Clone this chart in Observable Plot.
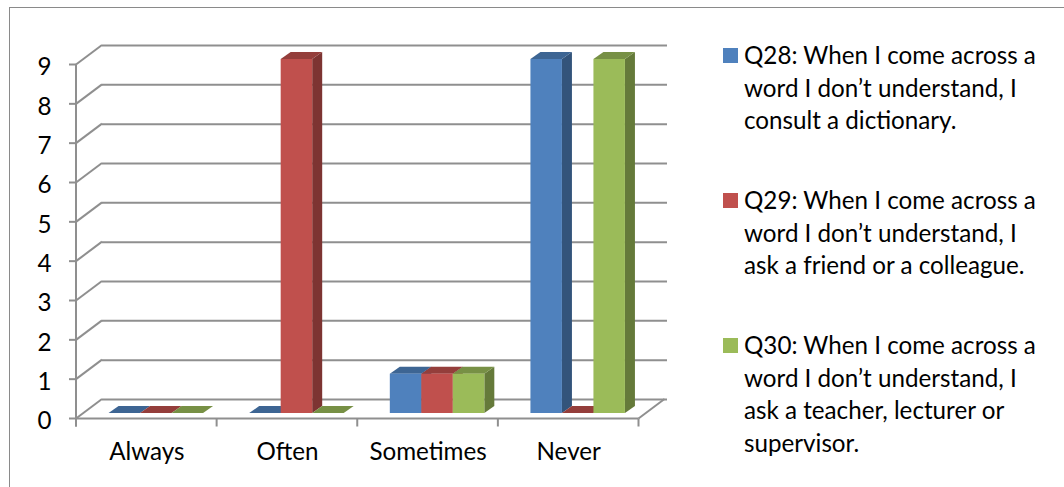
<!DOCTYPE html>
<html>
<head>
<meta charset="utf-8">
<script src="https://cdn.jsdelivr.net/npm/d3@7"></script>
<script src="https://cdn.jsdelivr.net/npm/@observablehq/plot@0.6"></script>
<style>
  html, body { margin: 0; padding: 0; background: #fff; }
  #chart { position: relative; width: 1064px; height: 487px; overflow: hidden; font-family: Lato, "Open Sans", sans-serif; }
  #frame { position: absolute; left: 9px; top: 7px; width: 1100px; height: 600px; border-left: 1.5px solid #8a8a8a; border-top: 1.5px solid #8a8a8a; }
  #plot { position: absolute; left: 0; top: 0; }
  #legend { position: absolute; left: 723px; top: 0; width: 340px; height: 487px; }
  .swatch { position: absolute; left: 0; width: 15px; height: 15px; }
  .label { position: absolute; left: 21px; font-size: 24.2px; line-height: 32.5px; white-space: nowrap; color: #000; }
</style>
</head>
<body>
<div id="chart">
  <div id="frame"></div>
  <div id="plot"></div>
  <div id="legend"></div>
</div>
<script>
// ---- data ----
const categories = ["Always", "Often", "Sometimes", "Never"];
const seriesNames = ["Q28", "Q29", "Q30"];
const legendLines = [
  ["Q28: When I come across a", "word I don’t understand, I", "consult a dictionary."],
  ["Q29: When I come across a", "word I don’t understand, I", "ask a friend or a colleague."],
  ["Q30: When I come across a", "word I don’t understand, I", "ask a teacher, lecturer or", "supervisor."]
];
const q28 = [0, 0, 1, 9];
const q29 = [0, 9, 1, 0];
const q30 = [0, 0, 1, 9];
const yTicks = [0, 1, 2, 3, 4, 5, 6, 7, 8, 9];
const colors = ["#4F81BD", "#C0504D", "#9BBB59"];
const topColors = ["#3D6593", "#943E3B", "#779045"];
const sideColors = ["#33547B", "#7D3432", "#657A3A"];

// ---- layout / style constants ----
const GRID = "#8f8f8f";
const FRONT = [-9.5, 5.5];   // front plane offset (px) from bar plane
const BACK = [16.5, -14];    // back wall offset (px) from bar plane
const DEPTH = [10, -7];      // bar depth (px)
const barFrac = 0.224;       // bar width as fraction of a category band
const FONT = "Lato, 'Open Sans', sans-serif";
const FS = 24.2;

const values = [q28, q29, q30];
const rows = [];
categories.forEach((c, i) => {
  seriesNames.forEach((s, j) => {
    const x1 = i + 0.5 + (j - 1.5) * barFrac;
    rows.push({cat: c, series: s, j, value: values[j][i], x1, x2: x1 + barFrac});
  });
});

function axesDecor(index, {x, y}) {
  const g = d3.create("svg:g").attr("fill", "none").attr("stroke", GRID).attr("stroke-width", 2);
  const line = (x1, y1, x2, y2) => g.append("line").attr("x1", x1).attr("y1", y1).attr("x2", x2).attr("y2", y2);
  for (const t of yTicks) line(x(0) + FRONT[0], y(t) + FRONT[1], x(0) + BACK[0], y(t) + BACK[1]);
  line(x(categories.length) + FRONT[0], y(0) + FRONT[1], x(categories.length) + BACK[0], y(0) + BACK[1]);
  line(x(0) + FRONT[0], y(0) + FRONT[1], x(categories.length) + FRONT[0], y(0) + FRONT[1]);
  line(x(0) + FRONT[0], y(yTicks[yTicks.length - 1]) + FRONT[1], x(0) + FRONT[0], y(0) + FRONT[1] + 8);
  for (const t of yTicks) line(x(0) + FRONT[0] - 7, y(t) + FRONT[1], x(0) + FRONT[0], y(t) + FRONT[1]);
  for (let i = 0; i <= categories.length; i++) line(x(i) + FRONT[0], y(0) + FRONT[1], x(i) + FRONT[0], y(0) + FRONT[1] + 8);
  return g.node();
}

function barSidesTops(index, {x, y}) {
  const g = d3.create("svg:g");
  const poly = (pts, fill) => g.append("polygon").attr("points", pts.map(p => p.join(",")).join(" ")).attr("fill", fill);
  for (const d of rows) {
    const X1 = x(d.x1), X2 = x(d.x2), Y0 = y(0), Yv = y(d.value);
    if (d.value > 0) {
      poly([[X2, Y0], [X2, Yv], [X2 + DEPTH[0], Yv + DEPTH[1]], [X2 + DEPTH[0], Y0 + DEPTH[1]]], sideColors[d.j]);
    }
    poly([[X1, Yv], [X2, Yv], [X2 + DEPTH[0], Yv + DEPTH[1]], [X1 + DEPTH[0], Yv + DEPTH[1]]], topColors[d.j]);
  }
  return g.node();
}

const chart = Plot.plot({
  width: 1064,
  height: 487,
  marginLeft: 85.5,
  marginRight: 1064 - 648,
  marginTop: 59,
  marginBottom: 487 - 413,
  style: {fontFamily: FONT, background: "transparent"},
  x: {type: "linear", domain: [0, categories.length], axis: null},
  y: {domain: [0, 9], axis: null},
  color: {domain: seriesNames, range: colors},
  marks: [
    Plot.ruleY(yTicks, {x1: 0, x2: categories.length, dx: BACK[0], dy: BACK[1], insetRight: -2.5, stroke: GRID, strokeWidth: 2}),
    axesDecor,
    barSidesTops,
    Plot.rect(rows.filter(d => d.value > 0), {x1: "x1", x2: "x2", y1: 0, y2: "value", fill: "series"}),
    Plot.text(yTicks, {x: 0, y: d => d, text: d => String(d), textAnchor: "end", dx: -34.5, dy: 8, fontSize: FS, fill: "#000"}),
    Plot.text(categories, {x: (d, i) => i + 0.5, y: 0, text: d => d, dx: FRONT[0], dy: 39, fontSize: FS, fill: "#000"})
  ]
});
document.getElementById("plot").append(chart);

// ---- legend (HTML, right side) ----
const legend = document.getElementById("legend");
const firstLineCenters = [55.5, 200.5, 345.5];
seriesNames.forEach((s, j) => {
  const sw = document.createElement("div");
  sw.className = "swatch";
  sw.style.background = colors[j];
  sw.style.top = (firstLineCenters[j] - 7.5) + "px";
  legend.append(sw);
  const lab = document.createElement("div");
  lab.className = "label";
  lab.style.top = (firstLineCenters[j] - 16.25) + "px";
  lab.innerHTML = legendLines[j].join("<br>");
  legend.append(lab);
});
</script>
</body>
</html>
